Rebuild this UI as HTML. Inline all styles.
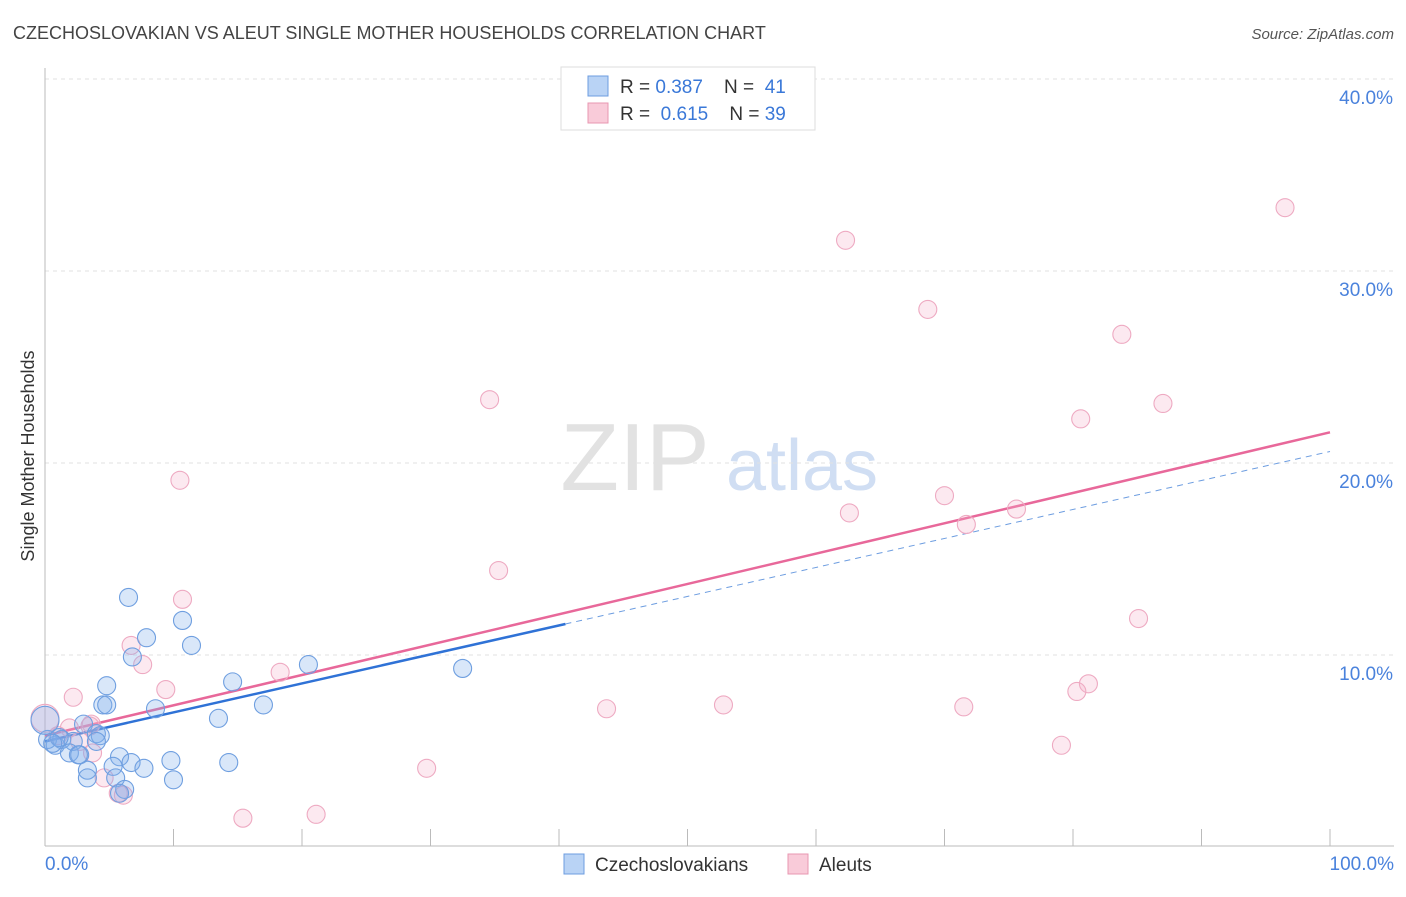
<!DOCTYPE html>
<html><head><meta charset="utf-8"><style>
body{margin:0;background:#fff;font-family:"Liberation Sans",sans-serif}
svg text{font-family:"Liberation Sans",sans-serif}
</style></head><body>
<svg id="chart" width="1406" height="892">
<text x="13" y="39" font-size="18" fill="#444">CZECHOSLOVAKIAN VS ALEUT SINGLE MOTHER HOUSEHOLDS CORRELATION CHART</text>
<text x="1394" y="39" font-size="15" fill="#555" font-style="italic" text-anchor="end">Source: ZipAtlas.com</text>
<text x="34" y="456" font-size="18" fill="#333" transform="rotate(-90 34 456)" text-anchor="middle">Single Mother Households</text>
<g>
<text x="635" y="490" font-size="96" fill="#e2e2e2" font-family="Liberation Serif,serif" text-anchor="middle">ZIP</text>
<text x="802" y="490" font-size="72" fill="#d0def3" text-anchor="middle">atlas</text>
</g>
<g id="grid"></g><g id="axes"></g><g id="lines"></g><g id="pts"></g>
<g>
<rect x="561" y="67" width="254" height="63" fill="#fff" stroke="#ddd"/>
<rect x="588" y="76" width="20" height="20" fill="#b9d3f5" stroke="#6d9de0"/>
<text x="620" y="93" font-size="19" fill="#333" xml:space="preserve">R = <tspan fill="#3a78d8">0.387</tspan>    N =  <tspan fill="#3a78d8">41</tspan></text>
<rect x="588" y="103" width="20" height="20" fill="#f9cbd9" stroke="#e897b1"/>
<text x="620" y="120" font-size="19" fill="#333" xml:space="preserve">R =  <tspan fill="#3a78d8">0.615</tspan>    N = <tspan fill="#3a78d8">39</tspan></text>
</g>
<g>
<rect x="564" y="854" width="20" height="20" fill="#b9d3f5" stroke="#6d9de0"/>
<text x="595" y="871" font-size="19" fill="#333">Czechoslovakians</text>
<rect x="788" y="854" width="20" height="20" fill="#f9cbd9" stroke="#e897b1"/>
<text x="819" y="871" font-size="19" fill="#333">Aleuts</text>
</g>
</svg>
<script>
const yTicks=[10,20,30,40];
const yTickLabels=["10.0%","20.0%","30.0%","40.0%"];
const xTicks=[0,10,20,30,40,50,60,70,80,90,100];
const blueX=[6.5,10.7,7.9,11.4,6.8,20.5,32.5,4.8,14.6,4.5,4.8,8.6,17.0,13.5,3.0,4.0,0.8,0.2,0,1.3,2.2,1.9,2.7,5.8,6.7,5.3,3.3,7.7,9.8,14.3,3.3,5.5,10.0,6.2,5.8,4.3,1.1,0.6,2.6,4.0];
const blueY=[13.0,11.8,10.9,10.5,9.9,9.5,9.3,8.4,8.6,7.4,7.4,7.2,7.4,6.7,6.4,5.9,5.3,5.6,6.6,5.6,5.5,4.9,4.8,4.7,4.4,4.2,4.0,4.1,4.5,4.4,3.6,3.6,3.5,3.0,2.8,5.8,5.7,5.4,4.8,5.5];
const pinkX=[96.5,62.3,68.7,83.8,34.6,87.0,80.6,10.5,70.0,62.6,71.7,75.6,35.3,10.7,85.1,6.7,7.6,18.3,9.4,2.2,81.2,80.3,52.8,43.7,71.5,3.6,1.9,79.1,0,3.7,29.7,4.6,5.7,6.1,15.4,21.1,1.0,2.7,3.5];
const pinkY=[33.3,31.6,28.0,26.7,23.3,23.1,22.3,19.1,18.3,17.4,16.8,17.6,14.4,12.9,11.9,10.5,9.5,9.1,8.2,7.8,8.5,8.1,7.4,7.2,7.3,6.4,6.2,5.3,6.7,4.9,4.1,3.6,2.8,2.7,1.5,1.7,5.8,5.5,6.3];
const blueFit=[5.5,20.6]; const blueSolidEnd=40.5;
const pinkFit=[5.8,21.6];
const ns="http://www.w3.org/2000/svg";
const X=v=>45+v*12.85, Y=v=>847-v*19.2;
function mk(t,a,p){const e=document.createElementNS(ns,t);for(const k in a)e.setAttribute(k,a[k]);p.appendChild(e);return e;}
const g=document.getElementById('grid'),ax=document.getElementById('axes'),ln=document.getElementById('lines'),pts=document.getElementById('pts');
yTicks.forEach((t,i)=>{
 const l=mk('line',{x1:45,x2:1394,y1:Y(t),y2:Y(t),stroke:'#e2e2e2','stroke-dasharray':'4,4'},g);
 
 
 const tx=mk('text',{x:1393,y:Y(t)+25,'font-size':19,fill:'#4a82dc','text-anchor':'end'},g);
 tx.textContent=yTickLabels[i];
 
 
});
const ya=mk('line',{x1:45,x2:45,y1:68,y2:846,stroke:'#bbb'},ax);


const xa=mk('line',{x1:45,x2:1394,y1:846,y2:846,stroke:'#bbb'},ax);


xTicks.forEach(t=>{const l=mk('line',{x1:X(t),x2:X(t),y1:829,y2:846,stroke:'#bbb'},ax);
 
 });
const x0=mk('text',{x:45,y:870,'font-size':19,fill:'#4a82dc'},ax);x0.textContent='0.0%';


const x1=mk('text',{x:1394,y:870,'font-size':19,fill:'#4a82dc','text-anchor':'end'},ax);x1.textContent='100.0%';


function pt(x,y,big,c,s,name){const r=big?14:9;const e=mk('circle',{cx:X(x),cy:Y(y),r:r,fill:c,stroke:s,'stroke-width':1.1},pts);
 
 }
pinkX.forEach((x,i)=>pt(x,pinkY[i],x===0,'rgba(246,175,200,0.28)','#eeaac2','aleut-point'));
blueX.forEach((x,i)=>pt(x,blueY[i],x===0,'rgba(130,175,235,0.3)','#6f9fe0','czechoslovakian-point'));
const bs=t=>blueFit[0]+(blueFit[1]-blueFit[0])*t/100;
const bl=mk('line',{x1:X(0),y1:Y(bs(0)),x2:X(blueSolidEnd),y2:Y(bs(blueSolidEnd)),stroke:'#2f72d6','stroke-width':2.5},ln);


const bd=mk('line',{x1:X(blueSolidEnd),y1:Y(bs(blueSolidEnd)),x2:X(100),y2:Y(bs(100)),stroke:'#6d9de0','stroke-width':1,'stroke-dasharray':'6,5'},ln);


const pl=mk('line',{x1:X(0),y1:Y(pinkFit[0]),x2:X(100),y2:Y(pinkFit[1]),stroke:'#e8689a','stroke-width':2.5},ln);


</script>
</body></html>
